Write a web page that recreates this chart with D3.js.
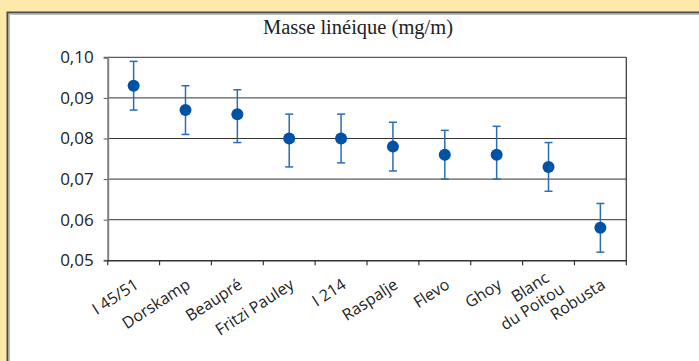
<!DOCTYPE html>
<html>
<head>
<meta charset="utf-8">
<script src="https://cdn.jsdelivr.net/npm/d3@7"></script>
<style>
  html, body { margin: 0; padding: 0; background: #fff; overflow: hidden; }
  svg { display: block; }
</style>
</head>
<body>
<svg id="chart" width="699" height="361"></svg>
<script>
// Clone varieties and their linear mass (mg/m) with error range
const categories = ["I 45/51", "Dorskamp", "Beaupré", "Fritzi Pauley", "I 214", "Raspalje", "Flevo", "Ghoy", "Blanc\ndu Poitou", "Robusta"];
const means = [0.093, 0.087, 0.086, 0.080, 0.080, 0.078, 0.076, 0.076, 0.073, 0.058];
const upper = [0.099, 0.093, 0.092, 0.086, 0.086, 0.084, 0.082, 0.083, 0.079, 0.064];
const lower = [0.087, 0.081, 0.079, 0.073, 0.074, 0.072, 0.070, 0.070, 0.067, 0.052];
const yTicks = [0.05, 0.06, 0.07, 0.08, 0.09, 0.10];
const title = "Masse linéique (mg/m)";

const svg = d3.select("#chart");
const W = 699, H = 361;

// yellow page background, white panel with a dark edge on the top and left
svg.append("rect").attr("width", W).attr("height", H).attr("fill", "#fde9aa");
svg.append("rect").attr("x", 7).attr("y", 12).attr("width", W - 7).attr("height", H - 12).attr("fill", "#fff");
svg.append("path").attr("d", `M7.5,${H} V12.5 H${W}`).attr("fill", "none").attr("stroke", "#4a4a4a").attr("stroke-width", 2);
svg.append("path").attr("d", `M9.5,${H} V14.5 H${W}`).attr("fill", "none").attr("stroke", "#bbb").attr("stroke-width", 1);

const m = { left: 107.7, top: 57.3, right: 626.3, bottom: 260.3 };

const x = d3.scaleBand().domain(categories).range([m.left, m.right]).paddingInner(0).paddingOuter(0);
const y = d3.scaleLinear().domain([0.05, 0.10]).range([m.bottom, m.top]);

svg.append("text")
  .attr("x", 358).attr("y", 33.5)
  .attr("text-anchor", "middle")
  .attr("font-family", "'Liberation Serif', serif")
  .attr("font-size", 20.5)
  .attr("fill", "#222")
  .text(title);

// horizontal gridlines
svg.append("g").selectAll("line").data(yTicks.filter(d => d > 0.05)).join("line")
  .attr("x1", m.left).attr("x2", m.right)
  .attr("y1", d => y(d)).attr("y2", d => y(d))
  .attr("stroke", "#333").attr("stroke-width", 1);

// right frame
svg.append("line").attr("x1", m.right).attr("x2", m.right).attr("y1", m.top).attr("y2", m.bottom)
  .attr("stroke", "#333").attr("stroke-width", 1.2);

// y axis
const fmt = d => d.toFixed(2).replace(".", ",");
const yAxis = d3.axisLeft(y).tickValues(yTicks).tickFormat(fmt).tickSize(4).tickPadding(10);
const gy = svg.append("g").attr("transform", `translate(${m.left},0)`).call(yAxis);
gy.select(".domain").attr("stroke", "#808080").attr("stroke-width", 2);
gy.selectAll(".tick line").attr("stroke", "#555");
gy.selectAll(".tick text")
  .attr("font-family", "'Open Sans', sans-serif").attr("font-size", 17).attr("fill", "#222");

// x axis
const xAxis = d3.axisBottom(x).tickSize(0).tickFormat("");
const gx = svg.append("g").attr("transform", `translate(0,${m.bottom})`).call(xAxis);
gx.select(".domain").attr("stroke", "#333").attr("stroke-width", 1.5);
gx.selectAll(".tick").remove();
const edges = categories.map(c => x(c)).concat([m.right]);
gx.selectAll("line.edge").data(edges).join("line").attr("class", "edge")
  .attr("x1", d => d).attr("x2", d => d).attr("y1", 0).attr("y2", 5)
  .attr("stroke", "#333").attr("stroke-width", 1.2);

// rotated category labels
const lab = svg.append("g").selectAll("text").data(categories).join("text")
  .attr("transform", d => `translate(${x(d) + x.bandwidth() / 2 + 6},${m.bottom + 27}) rotate(-33)`)
  .attr("text-anchor", "end")
  .attr("font-family", "'Open Sans', sans-serif").attr("font-size", 16).attr("fill", "#222");
lab.each(function(d) {
  const lines = d.split("\n");
  const t = d3.select(this);
  lines.forEach((s, i) => {
    const first = lines.length > 1 ? "-0.5em" : "0";
    t.append("tspan").attr("x", i === 0 ? 0 : 7).attr("dy", i === 0 ? first : "1.1em").text(s);
  });
});

// error bars
const cx = i => x(categories[i]) + x.bandwidth() / 2;
const eb = svg.append("g").attr("stroke", "#2a6cb6").attr("stroke-width", 1.5);
means.forEach((v, i) => {
  eb.append("line").attr("x1", cx(i)).attr("x2", cx(i)).attr("y1", y(upper[i])).attr("y2", y(lower[i]));
  eb.append("line").attr("x1", cx(i) - 4).attr("x2", cx(i) + 4).attr("y1", y(upper[i])).attr("y2", y(upper[i]));
  eb.append("line").attr("x1", cx(i) - 4).attr("x2", cx(i) + 4).attr("y1", y(lower[i])).attr("y2", y(lower[i]));
});

// mean markers
svg.append("g").selectAll("circle").data(means).join("circle")
  .attr("cx", (d, i) => cx(i)).attr("cy", d => y(d)).attr("r", 6)
  .attr("fill", "#0052a5");
</script>
</body>
</html>
